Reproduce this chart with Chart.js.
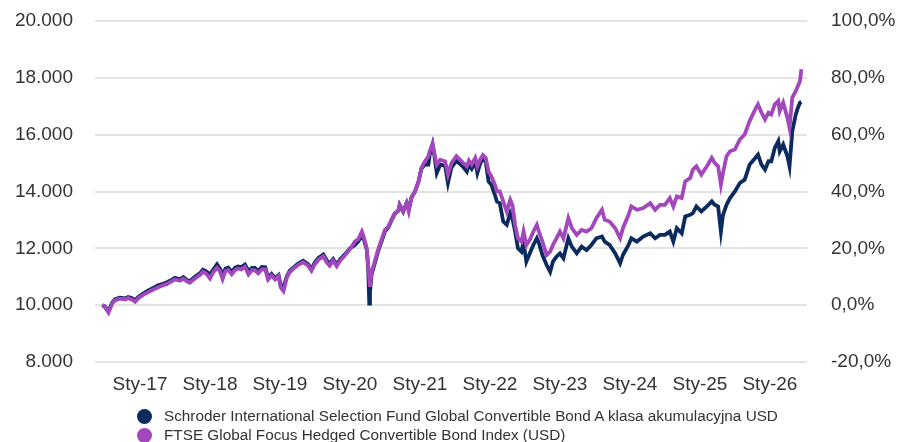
<!DOCTYPE html>
<html>
<head>
<meta charset="utf-8">
<script src="https://cdn.jsdelivr.net/npm/chart.js@4.4.1/dist/chart.umd.min.js"></script>
<style>
  html, body { margin: 0; padding: 0; background: #ffffff; }
  #wrap { position: relative; width: 898px; height: 442px; font-family: "Liberation Sans", Arial, sans-serif; }
  #chart { position: absolute; left: 0; top: 0; }
  .leg { position: absolute; left: 137px; font-size: 15.3px; color: #333; display: flex; align-items: center; white-space: nowrap; }
  .dot { width: 15px; height: 15px; border-radius: 50%; margin-right: 12px; display: inline-block; }
</style>
</head>
<body>
<div id="wrap">
  <canvas id="chart" width="898" height="442"></canvas>
  <div class="leg" id="leg1" style="top:407px"><span class="dot" style="background:#0b2a5e"></span><span id="lab1"></span></div>
  <div class="leg" id="leg2" style="top:426px"><span class="dot" style="background:#a347bd"></span><span id="lab2"></span></div>
</div>
<script>
const seriesNames = [
  "Schroder International Selection Fund Global Convertible Bond A klasa akumulacyjna USD",
  "FTSE Global Focus Hedged Convertible Bond Index (USD)"
];
const yearTicks = [2017, 2018, 2019, 2020, 2021, 2022, 2023, 2024, 2025, 2026];
const leftTicks = [8000, 10000, 12000, 14000, 16000, 18000, 20000];
const rightTicks = [-20, 0, 20, 40, 60, 80, 100];

const dates = [
  2016.46, 2016.50, 2016.55, 2016.60, 2016.64, 2016.71, 2016.79, 2016.83, 2016.88, 2016.93, 2016.98,
  2017.05, 2017.12, 2017.19, 2017.26, 2017.33, 2017.38, 2017.45, 2017.50, 2017.57, 2017.62, 2017.67, 2017.71, 2017.79, 2017.86, 2017.90, 2017.95,
  2018.00, 2018.05, 2018.10, 2018.14, 2018.18, 2018.22, 2018.26, 2018.31, 2018.36, 2018.40, 2018.45, 2018.50, 2018.55, 2018.60, 2018.64, 2018.69, 2018.74, 2018.79, 2018.83, 2018.88, 2018.93, 2018.98,
  2019.01, 2019.05, 2019.10, 2019.14, 2019.19, 2019.26, 2019.33, 2019.40, 2019.45, 2019.50, 2019.55, 2019.62, 2019.67, 2019.71, 2019.76, 2019.81, 2019.86, 2019.92,
  2020.00, 2020.07, 2020.12, 2020.17, 2020.20, 2020.24, 2020.26, 2020.276, 2020.286, 2020.31, 2020.36, 2020.40, 2020.45, 2020.50, 2020.55, 2020.60, 2020.64, 2020.69, 2020.71, 2020.76, 2020.81, 2020.84, 2020.88, 2020.93, 2020.98,
  2021.02, 2021.07, 2021.12, 2021.14, 2021.18, 2021.21, 2021.24, 2021.29, 2021.36, 2021.40, 2021.45, 2021.52, 2021.57, 2021.62, 2021.67, 2021.70, 2021.74, 2021.79, 2021.82, 2021.86, 2021.90, 2021.94, 2021.98,
  2022.02, 2022.07, 2022.10, 2022.14, 2022.19, 2022.24, 2022.29, 2022.32, 2022.36, 2022.40, 2022.45, 2022.48, 2022.52, 2022.57, 2022.62, 2022.67, 2022.70, 2022.75, 2022.81, 2022.86, 2022.90, 2022.95, 2023.00,
  2023.05, 2023.12, 2023.17, 2023.24, 2023.31, 2023.38, 2023.45, 2023.52, 2023.60, 2023.64, 2023.71, 2023.79, 2023.86, 2023.90, 2023.98,
  2024.02, 2024.10, 2024.19, 2024.29, 2024.36, 2024.43, 2024.50, 2024.57, 2024.62, 2024.67, 2024.74, 2024.79, 2024.86, 2024.90, 2024.95,
  2025.02, 2025.10, 2025.17, 2025.21, 2025.26, 2025.30, 2025.33, 2025.38, 2025.43, 2025.50, 2025.57, 2025.64, 2025.71, 2025.79, 2025.83, 2025.88, 2025.93, 2025.98,
  2026.02, 2026.07, 2026.12, 2026.14, 2026.19, 2026.25, 2026.28, 2026.32, 2026.37, 2026.40, 2026.43, 2026.45
];

const fundValues = [
  10000, 9950, 9790, 10080, 10200, 10260, 10240, 10290, 10250, 10176, 10300,
  10420, 10520, 10610, 10700, 10750, 10800, 10890, 10960, 10910, 10990, 10890, 10840, 11010, 11130, 11247, 11180,
  11083, 11260, 11436, 11290, 11059, 11280, 11320, 11170, 11320, 11360, 11340, 11430, 11200, 11310, 11310, 11200, 11340, 11330, 10960, 11100, 10950, 11060,
  10700, 10647, 11030, 11210, 11320, 11460, 11560, 11440, 11280, 11510, 11660, 11780, 11570, 11450, 11620, 11430, 11620, 11770,
  12000, 12119, 12250, 12449, 12300, 11950, 11300, 10057, 10470, 11100, 11520, 11880, 12240, 12600, 12740, 13020, 13220, 13320, 13530, 13290, 13600, 13415, 13800, 14000, 14350,
  14800, 14950, 14946, 15300, 15650, 15200, 14652, 14950, 14900, 14298, 14850, 15080, 14980, 14860, 14700, 14950, 14800, 15050, 14652, 14980, 15150, 15050, 14357,
  14239, 13885, 13650, 13591, 12943, 12826, 13238, 13061, 12590, 12001, 11883, 12237, 11530, 11824, 12119, 12354, 12178, 11765, 11412, 11176, 11530, 11707, 11824,
  11648, 12354, 12060, 11824, 12060, 11942, 12119, 12354, 12413, 12237, 12119, 11824, 11471, 11765, 12119,
  12354, 12237, 12413, 12531, 12354, 12472, 12472, 12590, 12237, 12708, 12531, 13120, 13179, 13238, 13474,
  13297, 13474, 13650, 13533, 13474, 12590, 13179, 13533, 13768, 14004, 14298, 14416, 14946, 15182, 15299, 14946, 14769, 15064,
  15064, 15535, 15771, 15417, 15653, 15241, 14887, 16124, 16713, 16949, 17125, 17150
];

const indexValues = [
  10000, 9930, 9740, 10050, 10170, 10230, 10200, 10250, 10200, 10117, 10250,
  10370, 10460, 10550, 10630, 10700, 10740, 10840, 10910, 10860, 10930, 10840, 10790, 10950, 11070, 11180, 11100,
  10941, 11170, 11318, 11200, 10918, 11200, 11240, 11090, 11240, 11290, 11260, 11350, 11083, 11230, 11230, 11120, 11260, 11260, 10900, 11040, 10900, 11020,
  10620, 10494, 10990, 11160, 11280, 11420, 11510, 11390, 11210, 11450, 11600, 11720, 11500, 11390, 11570, 11370, 11570, 11730,
  11970, 12237, 12330, 12590, 12380, 12000, 11400, 10941, 10646, 11180, 11590, 11940, 12300, 12650, 12770, 13040, 13240, 13320, 13530, 13300, 13590, 13297, 13790, 14000, 14360,
  14830, 15060, 15241, 15420, 15680, 15300, 14946, 15120, 15060, 14593, 15000, 15240, 15120, 15000, 14890, 15090, 14950, 15180, 14887, 15120, 15280, 15180, 14710,
  14534, 14239, 14004, 14004, 13650, 13297, 13709, 13532, 12826, 12354, 12237, 12590, 12119, 12296, 12590, 12826, 12590, 12237, 11765, 11883, 12119, 12354, 12590,
  12354, 13061, 12708, 12472, 12649, 12590, 12708, 13061, 13356, 13002, 12943, 12708, 12354, 12708, 13179,
  13474, 13356, 13415, 13591, 13356, 13532, 13532, 13768, 13474, 13827, 13768, 14357, 14475, 14769, 14887,
  14593, 14887, 15182, 15005, 14887, 14239, 14652, 15241, 15417, 15476, 15830, 16006, 16478, 16890, 17066, 16772, 16536, 16772,
  16713, 17066, 17184, 16831, 17125, 16595, 16242, 17302, 17538, 17714, 17891, 18300
];

const navy = '#0b2a5e';
const purple = '#a347bd';

document.getElementById('lab1').textContent = seriesNames[0];
document.getElementById('lab2').textContent = seriesNames[1];

const toPts = (vals) => vals.map((v, i) => ({ x: dates[i], y: v }));
const font = { family: '"Liberation Sans", Arial, sans-serif', size: 19 };

new Chart(document.getElementById('chart'), {
  type: 'line',
  data: {
    datasets: [
      { label: seriesNames[1], data: toPts(indexValues), borderColor: purple, backgroundColor: purple, borderWidth: 3.8, pointRadius: 0, tension: 0, order: 1, yAxisID: 'y' },
      { label: seriesNames[0], data: toPts(fundValues), borderColor: navy, backgroundColor: navy, borderWidth: 3.8, pointRadius: 0, tension: 0, order: 2, yAxisID: 'y' }
    ]
  },
  options: {
    responsive: false,
    animation: false,
    layout: { padding: { top: 21, bottom: 40, left: 0, right: 0 } },
    plugins: { legend: { display: false }, tooltip: { enabled: false } },
    scales: {
      x: {
        type: 'linear',
        min: 2016.357,
        max: 2026.53,
        grid: { display: false, drawTicks: false },
        border: { display: false },
        afterBuildTicks: (s) => { s.ticks = yearTicks.map(v => ({ value: v })); },
        afterFit: (s) => { s.height = 40; },
        ticks: {
          font: font, color: '#333', padding: 11, autoSkip: false, maxRotation: 0,
          callback: (v) => 'Sty-' + String(v).slice(2)
        }
      },
      y: {
        position: 'left',
        min: 8000, max: 20000,
        afterBuildTicks: (s) => { s.ticks = leftTicks.map(v => ({ value: v })); },
        afterFit: (s) => { s.width = 95; },
        grid: { color: '#e3e3e3', lineWidth: 2, drawTicks: true, tickLength: 22, tickColor: 'rgba(0,0,0,0)' },
        border: { display: false },
        ticks: {
          font: font, color: '#333', padding: 0,
          callback: (v) => String(v).replace(/\B(?=(\d{3})+(?!\d))/g, '.')
        }
      },
      y2: {
        position: 'right',
        min: -20, max: 100,
        afterBuildTicks: (s) => { s.ticks = rightTicks.map(v => ({ value: v })); },
        afterFit: (s) => { s.width = 91; },
        grid: { display: false, drawTicks: true, tickLength: 24 },
        border: { display: false },
        ticks: {
          font: font, color: '#333', padding: 0,
          callback: (v) => v.toFixed(1).replace('.', ',') + '%'
        }
      }
    }
  }
});
</script>
</body>
</html>
